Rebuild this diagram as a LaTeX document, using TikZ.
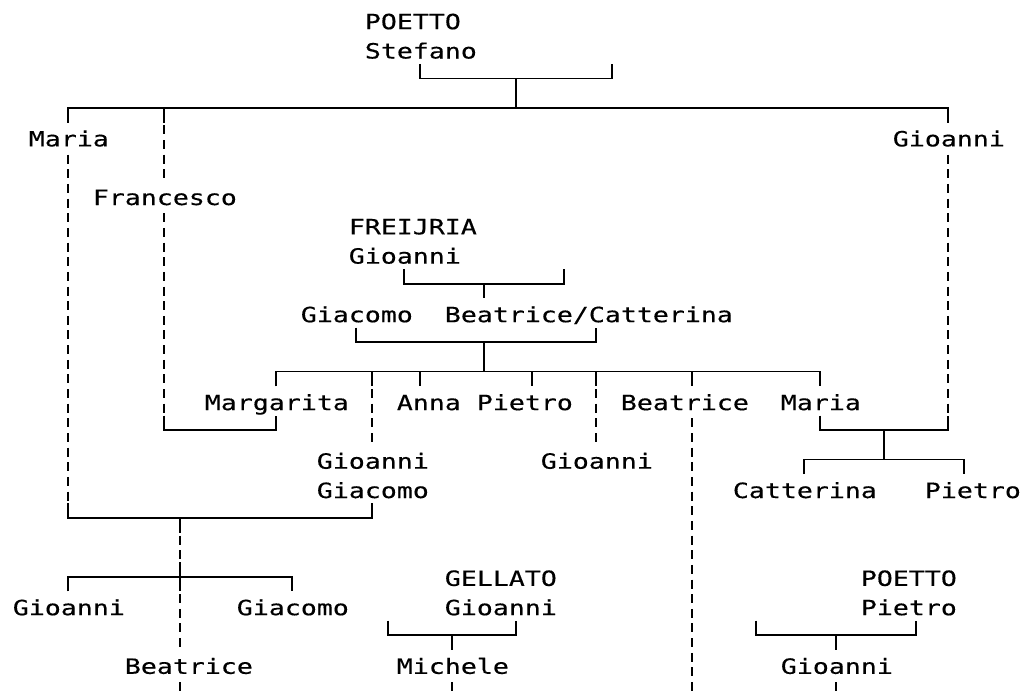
\documentclass[tikz,border=0pt]{standalone}
\usepackage{fontspec}
\newfontfamily\monofont[FakeStretch=1.2655,FakeBold=0.35]{DejaVu Sans Mono}
\begin{document}
\begin{tikzpicture}[x=16pt,y=-29.3pt,line width=1.7pt,line join=miter]
\tikzset{
  nm/.style={anchor=base west,inner sep=0pt,yshift=-9.2pt,font=\monofont\fontsize{21pt}{24pt}\selectfont},
  dl/.style={dash pattern=on 9pt off 5.65pt,dash phase=11.825pt}
}
\useasboundingbox (-0.25,-0.6826) rectangle (63.8125,23.0034);
\clip (-0.25,-0.6826) rectangle (63.8125,23.0034);

% ---- names ----
\node[nm] (poetto1) at (22.5,0) {POETTO};
\node[nm] (stefano) at (22.5,1) {Stefano};
\node[nm] (maria1) at (1.5,4) {Maria};
\node[nm] (gioanni1) at (55.5,4) {Gioanni};
\node[nm] (francesco) at (5.5,6) {Francesco};
\node[nm] (freijria) at (21.5,7) {FREIJRIA};
\node[nm] (gioanni2) at (21.5,8) {Gioanni};
\node[nm] (giacomo1) at (18.5,10) {Giacomo};
\node[nm] (beatcat) at (27.5,10) {Beatrice/Catterina};
\node[nm] (margarita) at (12.5,13) {Margarita};
\node[nm] (anna) at (24.5,13) {Anna};
\node[nm] (pietro1) at (29.5,13) {Pietro};
\node[nm] (beatrice1) at (38.5,13) {Beatrice};
\node[nm] (maria2) at (48.5,13) {Maria};
\node[nm] (gioanni3) at (19.5,15) {Gioanni};
\node[nm] (giacomo2) at (19.5,16) {Giacomo};
\node[nm] (gioanni4) at (33.5,15) {Gioanni};
\node[nm] (catterina) at (45.5,16) {Catterina};
\node[nm] (pietro2) at (57.5,16) {Pietro};
\node[nm] (gellato) at (27.5,19) {GELLATO};
\node[nm] (gioanni5) at (27.5,20) {Gioanni};
\node[nm] (poetto2) at (53.5,19) {POETTO};
\node[nm] (pietro3) at (53.5,20) {Pietro};
\node[nm] (gioanni6) at (0.5,20) {Gioanni};
\node[nm] (giacomo3) at (14.5,20) {Giacomo};
\node[nm] (beatrice2) at (7.5,22) {Beatrice};
\node[nm] (michele) at (24.5,22) {Michele};
\node[nm] (gioanni7) at (48.5,22) {Gioanni};

% ---- junction coordinates ----
\coordinate (s-l) at (26,1.5);
\coordinate (s-m) at (32,2);
\coordinate (s-r) at (38,1.5);
\coordinate (s-d) at (32,3);
\coordinate (ma1-t) at (4,3.5);
\coordinate (ma1-a) at (4,4.5);
\coordinate (ma1-b) at (4,16.5);
\coordinate (fr-k) at (10,3);
\coordinate (fr-t) at (10,3.5);
\coordinate (fr-a) at (10,5.5);
\coordinate (fr-b) at (10,6.5);
\coordinate (fr-c) at (10,13.5);
\coordinate (g1-t) at (59,3.5);
\coordinate (g1-a) at (59,4.5);
\coordinate (g1-b) at (59,13.5);
\coordinate (fj-l) at (25,8.5);
\coordinate (fj-m) at (30,9);
\coordinate (fj-r) at (35,8.5);
\coordinate (fj-d) at (30,9.5);
\coordinate (gc-l) at (22,10.5);
\coordinate (gc-m) at (30,11);
\coordinate (gc-r) at (37,10.5);
\coordinate (gc-d) at (30,12);
\coordinate (mg-t) at (17,12.5);
\coordinate (mg-b) at (17,13.5);
\coordinate (mg-c) at (17,14);
\coordinate (m2-t) at (51,12.5);
\coordinate (m2-b) at (51,13.5);
\coordinate (gg-k) at (23,12);
\coordinate (gg-t) at (23,12.5);
\coordinate (gg-b) at (23,14.5);
\coordinate (gg-e) at (23,16.5);
\coordinate (an-k) at (26,12);
\coordinate (an-t) at (26,12.5);
\coordinate (pi-k) at (33,12);
\coordinate (pi-t) at (33,12.5);
\coordinate (gm-k) at (37,12);
\coordinate (gm-t) at (37,12.5);
\coordinate (gm-b) at (37,14.5);
\coordinate (be-k) at (43,12);
\coordinate (be-t) at (43,12.5);
\coordinate (be-a) at (43,13.5);
\coordinate (be-b) at (43,23.5);
\coordinate (cp-m) at (55,14);
\coordinate (cp-d) at (55,15);
\coordinate (ca-t) at (50,15.5);
\coordinate (p2-t) at (60,15.5);
\coordinate (bt-m) at (11,17);
\coordinate (bt-a) at (11,17.5);
\coordinate (bt-b) at (11,18.5);
\coordinate (bt-x) at (11,19);
\coordinate (bt-c) at (11,19.5);
\coordinate (bt-d) at (11,21.5);
\coordinate (bt-e) at (11,22.5);
\coordinate (bt-f) at (11,23.5);
\coordinate (g6-t) at (4,19.5);
\coordinate (g3-t) at (18,19.5);
\coordinate (ge-l) at (24,20.5);
\coordinate (ge-m) at (28,21);
\coordinate (ge-r) at (32,20.5);
\coordinate (ge-d) at (28,21.5);
\coordinate (mi-a) at (28,22.5);
\coordinate (mi-b) at (28,23.5);
\coordinate (pp-l) at (47,20.5);
\coordinate (pp-m) at (52,21);
\coordinate (pp-r) at (57,20.5);
\coordinate (pp-d) at (52,21.5);
\coordinate (g7-a) at (52,22.5);
\coordinate (g7-b) at (52,23.5);

% ---- solid connectors ----
\draw (s-l) |- (s-m) -| (s-r);
\draw (s-m) -- (s-d);
\draw (ma1-t) |- (s-d) -| (g1-t);
\draw (fr-k) -- (fr-t);
\draw (fj-l) |- (fj-m) -| (fj-r);
\draw (fj-m) -- (fj-d);
\draw (gc-l) |- (gc-m) -| (gc-r);
\draw (gc-m) -- (gc-d);
\draw (mg-t) |- (gc-d) -| (m2-t);
\draw (gg-k) -- (gg-t);
\draw (an-k) -- (an-t);
\draw (pi-k) -- (pi-t);
\draw (gm-k) -- (gm-t);
\draw (be-k) -- (be-t);
\draw (fr-c) |- (mg-c) -- (mg-b);
\draw (m2-b) |- (cp-m) -| (g1-b);
\draw (cp-m) -- (cp-d);
\draw (ca-t) |- (cp-d) -| (p2-t);
\draw (ma1-b) |- (bt-m) -| (gg-e);
\draw (bt-m) -- (bt-a);
\draw (bt-b) -- (bt-c);
\draw (g6-t) |- (bt-x) -| (g3-t);
\draw (ge-l) |- (ge-m) -| (ge-r);
\draw (ge-m) -- (ge-d);
\draw (pp-l) |- (pp-m) -| (pp-r);
\draw (pp-m) -- (pp-d);

% ---- dashed descents ----
\draw[dl] (ma1-a) -- (ma1-b);
\draw[dl] (fr-t) -- (fr-a);
\draw[dl] (fr-b) -- (fr-c);
\draw[dl] (g1-a) -- (g1-b);
\draw[dl] (gg-t) -- (gg-b);
\draw[dl] (gm-t) -- (gm-b);
\draw[dl] (be-a) -- (be-b);
\draw[dl] (bt-a) -- (bt-b);
\draw[dl] (bt-c) -- (bt-d);
\draw[dl] (bt-e) -- (bt-f);
\draw[dl] (mi-a) -- (mi-b);
\draw[dl] (g7-a) -- (g7-b);
\end{tikzpicture}
\end{document}
